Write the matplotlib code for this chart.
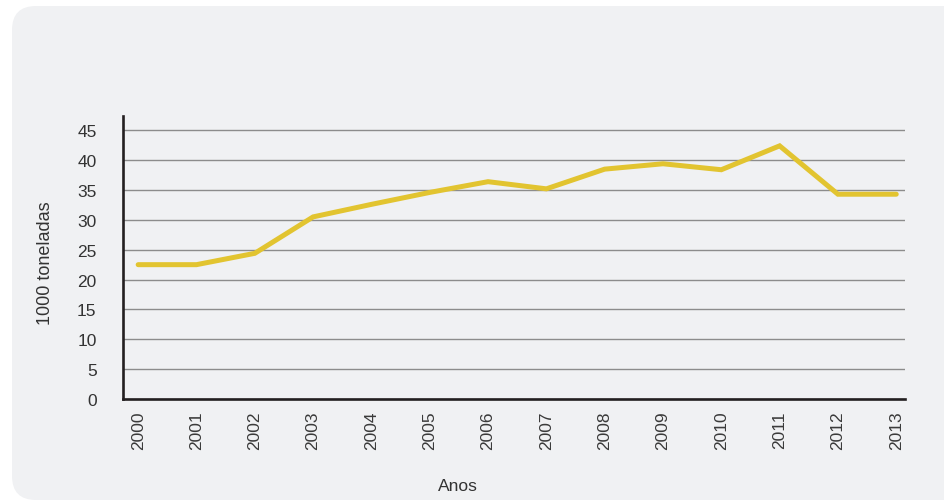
import matplotlib
matplotlib.use("Agg")
import matplotlib.pyplot as plt
from matplotlib.patches import FancyBboxPatch

# data
years = [2000, 2001, 2002, 2003, 2004, 2005, 2006, 2007, 2008, 2009, 2010, 2011, 2012, 2013]
toneladas = [22.5, 22.5, 24.4, 30.5, 32.6, 34.6, 36.4, 35.2, 38.5, 39.4, 38.4, 42.4, 34.3, 34.3]
y_ticks = [0, 5, 10, 15, 20, 25, 30, 35, 40, 45]
y_label = "1000 toneladas"
x_label = "Anos"

FONT = ["Liberation Sans", "DejaVu Sans"]
TEXT = "#333333"

fig = plt.figure(figsize=(9.44, 5.02), dpi=100)
fig.patch.set_facecolor("white")

# light rounded panel behind the chart (pixel coords)
panel = FancyBboxPatch((12, 1), 960, 494, boxstyle="round,pad=0,rounding_size=24",
                       transform=None, facecolor="#f0f1f3", edgecolor="none", zorder=-10)
fig.patches.append(panel)

ax = fig.add_axes([123 / 944, 1 - 400 / 502, (905 - 123) / 944, (400 - 117) / 502])
ax.set_facecolor("none")
ax.set_zorder(1)

ax.plot(years, toneladas, color="#e2c430", lw=3.6, solid_capstyle="round",
        solid_joinstyle="miter", zorder=3)

ax.set_xlim(1999.74, 2013.15)
ax.set_ylim(0, 47.4)
ax.set_yticks(y_ticks)
ax.set_xticks(years)
ax.set_xticklabels([str(y) for y in years], rotation=90, family=FONT, fontsize=12.5, color="#3a3a3a")
ax.set_yticklabels([str(v) for v in y_ticks], family=FONT, fontsize=12.5, color=TEXT)
ax.tick_params(axis="both", length=0)
ax.tick_params(axis="y", pad=19)
ax.tick_params(axis="x", pad=8)

ax.grid(axis="y", color="#8c8c8c", lw=1.0)
ax.set_axisbelow(True)

for side in ["top", "right"]:
    ax.spines[side].set_visible(False)
for side in ["left", "bottom"]:
    ax.spines[side].set_color("#231f20")
    ax.spines[side].set_linewidth(1.9)

fig.text(45 / 944, 1 - 263 / 502, y_label, rotation=90, ha="center", va="center",
         family=FONT, fontsize=13, color=TEXT)
fig.text(458 / 944, 1 - 487 / 502, x_label, ha="center", va="center",
         family=FONT, fontsize=12.5, color=TEXT)

fig.savefig("out.png", dpi=100)
